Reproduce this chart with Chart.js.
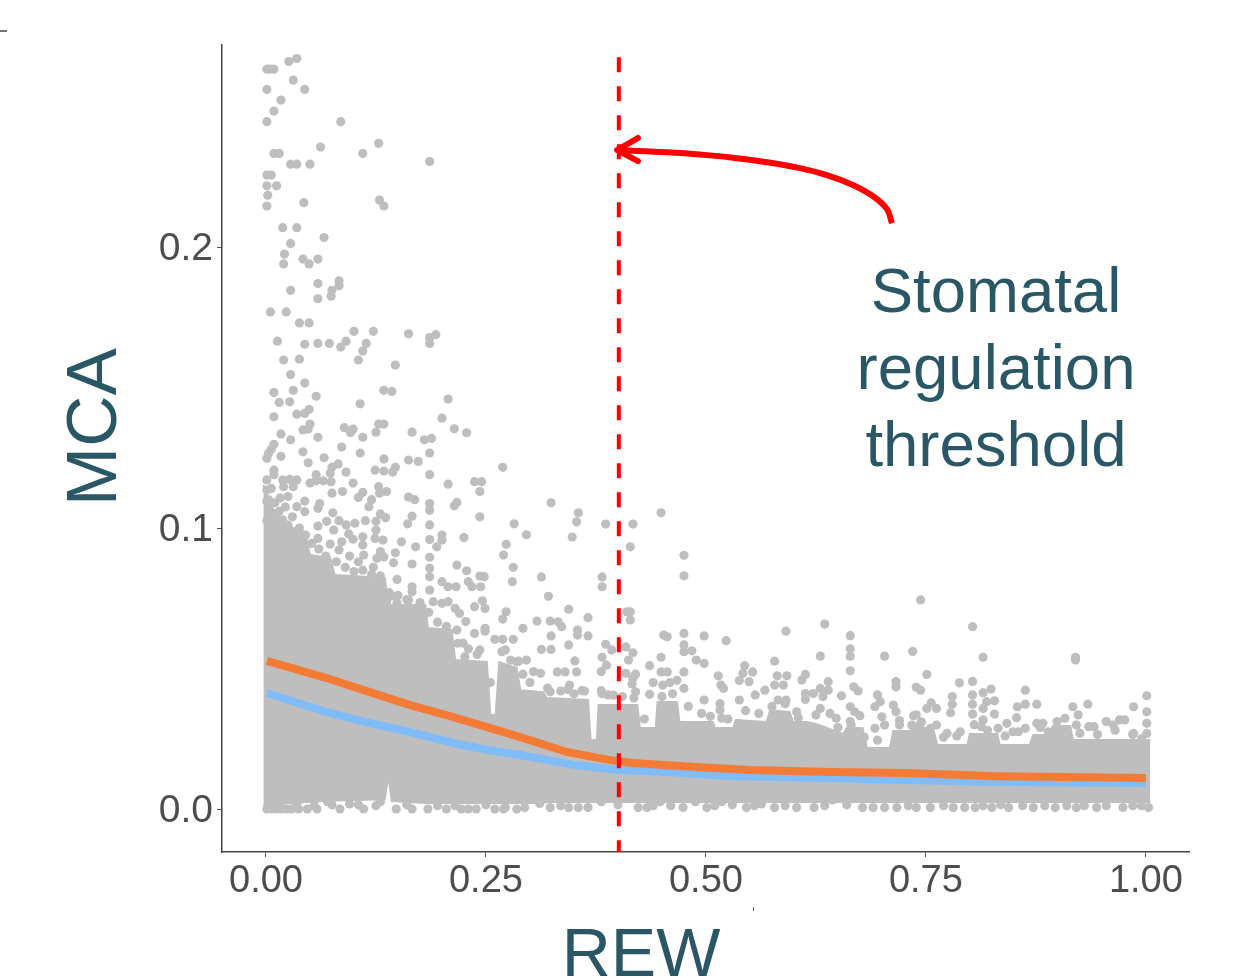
<!DOCTYPE html>
<html>
<head>
<meta charset="utf-8">
<title>MCA vs REW</title>
<script src="https://cdn.jsdelivr.net/npm/chart.js@4"></script>
<style>
  html, body { margin: 0; padding: 0; background: #fff; }
  canvas { display: block; }
</style>
</head>
<body>
<canvas id="chart" width="1236" height="978"></canvas>
<script>
// lissage (courbes du haut)
var orangeX = [0.001, 0.069, 0.118, 0.164, 0.213, 0.255, 0.289, 0.342, 0.391, 0.417, 0.493, 0.55, 0.644, 0.728, 0.831, 0.906, 1.0];
var orangeY = [0.0527, 0.0466, 0.0416, 0.0370, 0.0327, 0.0288, 0.0256, 0.0203, 0.0174, 0.0164, 0.0149, 0.0139, 0.0132, 0.0128, 0.0117, 0.0114, 0.0110];
var blueX = [0.001, 0.069, 0.118, 0.164, 0.213, 0.252, 0.289, 0.350, 0.400, 0.457, 0.532, 0.644, 0.728, 0.831, 1.0];
var blueY = [0.0413, 0.0345, 0.0306, 0.0274, 0.0235, 0.0210, 0.0192, 0.0157, 0.0139, 0.0132, 0.0117, 0.0110, 0.0103, 0.0096, 0.0093];

// seuil + fleche
var thresholdX = [0.401, 0.401];
var thresholdY = [0.2675, -0.0153];
var arrowX = [0.7114, 0.7057, 0.6898, 0.667, 0.6375, 0.6068, 0.5693, 0.5307, 0.4932, 0.4557, 0.4170, 0.399];
var arrowY = [0.2085, 0.2135, 0.2181, 0.2221, 0.2256, 0.2281, 0.2302, 0.2318, 0.2329, 0.2337, 0.2343, 0.2345];
var arrowHeadX = [0.4227, 0.399, 0.4227];
var arrowHeadY = [0.2388, 0.2345, 0.2306];

// masse dense de points : enveloppe haut / bas
var massX = [-0.003, 0.005, 0.022, 0.044, 0.05, 0.073, 0.078, 0.135, 0.139, 0.143, 0.181, 0.184, 0.211, 0.215, 0.251, 0.255, 0.261, 0.265, 0.285, 0.289, 0.315, 0.319, 0.366, 0.369, 0.376, 0.378, 0.399, 0.422, 0.425, 0.443, 0.445, 0.467, 0.470, 0.508, 0.510, 0.531, 0.534, 0.569, 0.573, 0.595, 0.599, 0.615, 0.626, 0.656, 0.660, 0.678, 0.683, 0.709, 0.713, 0.732, 0.735, 0.758, 0.763, 0.797, 0.800, 0.831, 0.834, 0.868, 0.872, 0.891, 0.894, 0.914, 0.917, 1.005];
var massTop = [0.1153, 0.1082, 0.1011, 0.0986, 0.0904, 0.0893, 0.0833, 0.0822, 0.0726, 0.0726, 0.0726, 0.0644, 0.0637, 0.0530, 0.0523, 0.0335, 0.0335, 0.0523, 0.0502, 0.0423, 0.0416, 0.0395, 0.0388, 0.0246, 0.0246, 0.0370, 0.0370, 0.0370, 0.0288, 0.0288, 0.0381, 0.0381, 0.0310, 0.0310, 0.0288, 0.0288, 0.0317, 0.0310, 0.0352, 0.0345, 0.0310, 0.0310, 0.0302, 0.0267, 0.0288, 0.0288, 0.0217, 0.0217, 0.0278, 0.0278, 0.0288, 0.0288, 0.0228, 0.0228, 0.0267, 0.0267, 0.0228, 0.0228, 0.0263, 0.0263, 0.0295, 0.0295, 0.0246, 0.0246];
var massBottom = [0.0014, 0.0014, 0.0020, 0.0025, 0.0025, 0.0030, 0.0030, 0.0035, 0.0121, 0.0028, 0.0021, 0.0021, 0.0021, 0.0021, 0.0021, 0.0021, 0.0021, 0.0021, 0.0021, 0.0021, 0.0021, 0.0025, 0.0025, 0.0025, 0.0025, 0.0025, 0.0025, 0.0025, 0.0025, 0.0025, 0.0025, 0.0025, 0.0025, 0.0025, 0.0025, 0.0025, 0.0025, 0.0025, 0.0025, 0.0025, 0.0025, 0.0025, 0.0025, 0.0025, 0.0025, 0.0025, 0.0025, 0.0025, 0.0025, 0.0025, 0.0025, 0.0025, 0.0025, 0.0025, 0.0025, 0.0025, 0.0025, 0.0025, 0.0025, 0.0025, 0.0025, 0.0025, 0.0025, 0.0025];

// points isoles (REW, MCA)
var scatterPoints = [
  [.035,.2671],[.026,.2660],[.001,.2633],[.005,.2633],[.009,.2633],[.031,.2594],[.001,.2561],[.044,.2561],[.017,.2523],[.009,.2484],
  [.001,.2446],[.085,.2446],[.128,.2369],[.062,.2356],[.009,.2333],[.015,.2333],[.110,.2333],[.186,.2304],[.028,.2295],[.035,.2295],
  [.050,.2295],[.001,.2256],[.006,.2256],[.001,.2218],[.012,.2218],[.002,.2184],[.001,.2146],[.043,.2158],[.129,.2167],[.134,.2146],
  [.019,.2069],[.035,.2069],[.066,.2034],[.028,.2013],[.021,.1975],[.042,.1957],[.049,.1940],[.020,.1940],[.059,.1957],[.083,.1880],
  [.083,.1862],[.059,.1870],[.075,.1846],[.074,.1825],[.059,.1816],[.028,.1846],[.005,.1769],[.023,.1769],[.038,.1730],[.049,.1730],
  [.100,.1700],[.122,.1700],[.162,.1691],[.186,.1678],[.193,.1688],
  [.013,.1665],[.044,.1654],[.059,.1657],[.072,.1657],[.085,.1644],[.091,.1665],[.186,.1657],[.114,.1657],[.110,.1630],[.105,.1598],
  [.020,.1598],[.038,.1601],[.147,.1580],[.028,.1546],[.044,.1516],[.009,.1482],[.031,.1490],[.134,.1490],[.143,.1486],[.057,.1469],
  [.015,.1447],[.027,.1449],[.107,.1442],[.207,.1459],[.009,.1396],[.035,.1405],[.044,.1408],[.049,.1422],[.200,.1391],[.050,.1370],
  [.042,.1349],[.048,.1352],[.089,.1357],[.099,.1352],[.096,.1339],[.128,.1370],[.134,.1370],[.125,.1341],[.166,.1341],[.214,.1353],
  [.228,.1339],[.017,.1335],[.028,.1314],[.059,.1323],[.110,.1323],[.180,.1314],[.188,.1319],[.009,.1298],[.006,.1280],[.003,.1266],
  [.001,.1248],[.017,.1255],[.042,.1271],[.086,.1288],[.107,.1267],[.186,.1267],[.066,.1250],[.048,.1232],[.134,.1246],[.162,.1242],
  [.173,.1237],[.082,.1228],[.075,.1216],[.269,.1216],[.009,.1206],[.124,.1206],[.134,.1203],[.147,.1216],[.144,.1199],[.091,.1199],
  [.186,.1190],[.009,.1190],[.057,.1190],[.073,.1195],[.001,.1171],[.019,.1171],[.027,.1173],[.035,.1171],[.020,.1147],[.031,.1147],
  [.050,.1160],[.057,.1168],[.065,.1168],[.074,.1165],[.099,.1160],[.207,.1156],[.237,.1165],[.245,.1165],[.243,.1130],[.128,.1147],
  [.129,.1124],[.137,.1130],[.075,.1124],[.087,.1130],[.110,.1127],[.105,.1109],[.001,.1135],[.006,.1141],[.162,.1110],[.169,.1101],
  [.044,.1096],[.120,.1101],[.061,.1087],[.059,.1070],[.186,.1087],[.186,.1063],[.217,.1091],[.214,.1079],[.117,.1076],[.016,.1107],
  [.025,.1112],[.001,.1094],[.035,.1076],[.044,.1058],[.076,.1054],[.130,.1050],[.136,.1037],[.166,.1042],[.161,.1015],[.243,.1040],
  [.282,.1015],[.001,.1026],[.019,.1029],[.069,.1024],[.083,.1026],[.059,.1007],[.091,.1011],[.101,.1017],[.113,.1026],[.125,.1024],
  [.125,.0993],[.186,.1011],[.077,.0993],[.094,.0979],[.099,.0960],[.059,.0963],[.073,.0943],[.086,.0951],[.110,.0969],[.110,.0940],
  [.124,.0963],[.133,.0957],[.154,.0951],[.170,.0933],[.186,.0959],[.200,.0975],[.200,.0957],[.194,.0933],[.225,.0966],[.273,.0942],
  [.270,.0904],[.281,.0860],[.280,.0809],[.083,.0922],[.130,.0916],[.147,.0912],[.126,.0892],[.134,.0897],[.111,.0904],[.186,.0896],
  [.186,.0857],[.166,.0872],[.145,.0876],[.217,.0868],[.228,.0848],[.243,.0829],[.248,.0827],[.230,.0809],[.234,.0791],[.186,.0827],
  [.200,.0809],[.207,.0791],[.216,.0791],[.244,.0791],[.149,.0817],[.143,.0758],[.166,.0791],[.166,.0773],[.162,.0744],[.186,.0779],
  [.190,.0738],[.200,.0732],[.207,.0738],[.246,.0741],[.237,.0720],[.249,.0714],[.273,.0702],[.269,.0676],[.215,.0714],[.220,.0696],
  [.227,.0667],[.249,.0643],[.137,.0738],[.149,.0732],[.171,.0714],[.154,.0696],[.260,.0604],[.269,.0604],[.281,.0604],[.249,.0633],
  [.237,.0625],[.272,.0566],[.285,.0524],[.226,.0542],[.243,.0566],[.209,.0566],[.217,.0637],[.224,.0590],
  [.324,.1090],[.355,.1054],[.353,.1022],[.449,.1054],[.386,.1014],[.417,.1014],[.296,.0976],[.348,.0968],[.414,.0933],[.475,.0903],
  [.475,.0830],[.313,.0826],[.382,.0826],[.382,.0791],[.321,.0757],[.344,.0711],[.410,.0702],[.414,.0702],[.414,.0673],[.308,.0669],
  [.323,.0669],[.332,.0666],[.336,.0649],[.366,.0681],[.292,.0643],[.354,.0637],[.354,.0619],[.324,.0616],[.366,.0616],[.475,.0625],
  [.475,.0584],[.475,.0560],[.452,.0619],[.456,.0613],[.498,.0616],[.523,.0599],[.591,.0633],[.635,.0658],[.386,.0586],[.393,.0566],
  [.409,.0577],[.417,.0556],[.344,.0584],[.313,.0568],[.324,.0568],[.351,.0527],[.484,.0563],[.498,.0518],[.489,.0530],[.382,.0540],
  [.412,.0530],[.449,.0540],[.436,.0510],[.287,.0526],[.296,.0530],[.387,.0512],[.381,.0489],[.630,.0544],[.578,.0526],[.544,.0510],
  [.331,.0488],[.340,.0488],[.353,.0488],[.312,.0483],[.304,.0489],[.409,.0483],[.420,.0480],[.449,.0488],[.456,.0488],[.475,.0488],
  [.514,.0474],[.542,.0483],[.553,.0488],[.538,.0457],[.549,.0453],[.581,.0474],[.592,.0474],[.613,.0479],[.609,.0459],[.639,.0453],
  [.467,.0458],[.459,.0450],[.451,.0441],[.440,.0450],[.436,.0408],[.517,.0441],[.520,.0429],[.417,.0465],[.416,.0445],[.420,.0417],
  [.345,.0441],[.343,.0425],[.359,.0421],[.323,.0417],[.381,.0421],[.389,.0406],[.578,.0441],[.588,.0441],[.567,.0423],[.556,.0406],
  [.538,.0388],[.630,.0429],[.613,.0411],[.613,.0390],[.622,.0411],[.639,.0423],[.633,.0400],[.475,.0429],[.498,.0388],[.516,.0375],
  [.516,.0352],[.591,.0388],[.582,.0388],[.518,.0323],[.603,.0346],[.630,.0358],[.641,.0340],[.592,.0328],[.537,.0305],
  [.744,.0744],[.803,.0649],[.664,.0617],[.664,.0570],[.664,.0544],[.664,.0492],[.703,.0544],[.735,.0561],[.815,.0540],[.920,.0540],
  [.920,.0530],[.751,.0479],[.803,.0454],[.788,.0449],[.716,.0453],[.716,.0435],[.668,.0435],[.673,.0420],[.654,.0403],[.739,.0433],
  [.744,.0423],[.695,.0406],[.780,.0400],[.780,.0373],[.778,.0343],[.756,.0378],[.751,.0358],[.762,.0358],[.803,.0406],[.803,.0373],
  [.803,.0338],[.815,.0414],[.824,.0427],[.819,.0382],[.828,.0385],[.815,.0358],[.828,.0338],[.863,.0423],[.863,.0373],[.876,.0373],
  [.854,.0364],[.853,.0325],[.863,.0287],[.917,.0364],[.934,.0373],[.923,.0335],[.986,.0364],[1.001,.0403],[1.001,.0346],[.664,.0364],
  [.669,.0346],[.675,.0332],[.692,.0364],[.698,.0382],[.700,.0328],[.713,.0370],[.716,.0346],[.664,.0311],[.648,.0323],[.692,.0287],
  [.703,.0299],[.736,.0332],[.739,.0335],[.734,.0299],[.762,.0299],[.774,.0269],[.789,.0275],[.815,.0317],[.813,.0293],[.832,.0287],
  [.842,.0305],[.849,.0275],[.876,.0305],[.883,.0305],[.889,.0275],[.899,.0311],[.908,.0323],[.921,.0299],[.935,.0293],[.941,.0293],
  [.955,.0311],[.963,.0299],[.970,.0317],[.976,.0317],[.986,.0269],[1.001,.0305],[1.001,.0269],[.720,.0299],[.743,.0299],[.755,.0287],
  // bord haut de la masse
  [.003,.1100],[.010,.1090],[.015,.1060],[.022,.1075],[.030,.1040],[.012,.1020],[.025,.1010],[.038,.1000],[.045,.0975],[.052,.0945],
  [.060,.0925],[.068,.0900],[.080,.0880],[.090,.0860],[.100,.0845],[.110,.0850],[.120,.0835],[.130,.0830],[.095,.0900],[.105,.0880],
  [.122,.0860],[.140,.0770],[.150,.0760],[.160,.0745],[.175,.0735],[.185,.0700],[.195,.0665],[.205,.0650],[.218,.0590],[.230,.0570],
  [.240,.0550],[.255,.0450],[.268,.0560],[.278,.0530],[.292,.0480],[.300,.0450],[.320,.0430],[.335,.0420],[.350,.0410],[.362,.0420],
  [.382,.0410],[.395,.0405],[.405,.0400],[.418,.0395],[.430,.0320],[.450,.0400],[.462,.0410],[.480,.0365],[.495,.0340],[.505,.0330],
  [.525,.0320],[.545,.0350],[.560,.0340],[.575,.0365],[.590,.0375],[.605,.0325],[.625,.0335],[.650,.0290],[.665,.0300],[.680,.0255],
  [.695,.0245],[.720,.0315],[.745,.0310],[.770,.0255],[.785,.0260],[.805,.0300],[.820,.0280],[.840,.0260],[.855,.0275],[.880,.0290],
  [.900,.0285],[.925,.0270],[.945,.0265],[.965,.0280],[.985,.0265],[.995,.0250],
  // bas du nuage, autour de zero
  [.001,0],[.006,0],[.012,0],[.018,0],[.024,0],[.029,0],[.037,0],[.047,0],[.058,0],[.084,0],[.111,0],[.148,0],[.166,0],[.184,0],
  [.205,0],[.222,0],[.230,0],[.239,0],[.260,0],[.270,0],[.285,0],[.070,.0026],[.095,.0018],[.037,.0032],[.130,.0026],
  [.323,.0005],[.344,.0005],[.355,.0005],[.366,.0005],[.423,.0005],[.433,.0005],[.474,.0005],[.501,.0005],[.546,.0005],[.578,.0005],
  [.603,.0005],[.623,.0005],[.272,.0005],[.294,.0005],[.311,.0020],[.381,.0026],[.448,.0026],[.488,.0026],[.518,.0026],[.563,.0018],
  [.644,.0032],[.678,.0005],[.690,.0005],[.703,.0005],[.717,.0005],[.739,.0005],[.755,.0005],[.781,.0005],[.794,.0005],[.806,.0005],
  [.825,.0005],[.844,.0005],[.872,.0005],[.897,.0005],[.921,.0005],[.944,.0005],[.974,.0005],[1.003,.0005],
  [.015,.0012],[.035,.0015],[.055,.0012],[.075,.0015],[.105,.0015],[.125,.0012],[.160,.0015],[.195,.0012],[.215,.0012],[.250,.0015],
  [.335,.0012],[.400,.0015],[.440,.0012],[.460,.0012],[.510,.0012],[.530,.0015],[.555,.0012],[.590,.0012],[.635,.0012],[.660,.0015],
  [.730,.0012],[.770,.0012],[.815,.0012],[.835,.0015],[.860,.0012],[.885,.0012],[.910,.0012],[.930,.0012],[.955,.0012],[.985,.0012],[.995,.0012]
];

var xTicks = [0, 0.25, 0.5, 0.75, 1];
var yTicks = [0, 0.1, 0.2];
var annotationLines = ['Stomatal', 'regulation', 'threshold'];
var xTitle = 'REW';
var yTitle = 'MCA';

var GREY = '#bebebe';
var TITLE_COLOR = '#2a5766';
var FONT = "'Liberation Sans', Arial, sans-serif";

function toPoints(xs, ys) {
  return xs.map(function (x, i) { return { x: x, y: ys[i] }; });
}

// textes poses a la main (pas centres sur l'axe dans l'original)
var textPlugin = {
  id: 'textPlugin',
  afterDraw: function (chart) {
    var ctx = chart.ctx;
    ctx.save();
    ctx.fillStyle = TITLE_COLOR;
    ctx.textAlign = 'center';
    ctx.textBaseline = 'alphabetic';
    ctx.font = '63.5px ' + FONT;
    [312, 389, 466].forEach(function (y, i) {
      ctx.fillText(annotationLines[i], 996, y);
    });
    ctx.font = '68px ' + FONT;
    ctx.fillText(xTitle, 641, 976);
    ctx.save();
    ctx.translate(116, 427);
    ctx.rotate(-Math.PI / 2);
    ctx.font = '71px ' + FONT;
    ctx.fillText(yTitle, 0, 0);
    ctx.restore();
    // petits restes de la capture
    ctx.fillStyle = '#777';
    ctx.fillRect(0, 30, 7, 2);
    ctx.fillStyle = '#2a6fb0';
    ctx.fillRect(753, 907, 1, 4);
    ctx.restore();
  }
};

new Chart(document.getElementById('chart'), {
  type: 'scatter',
  data: {
    datasets: [
      {
        data: toPoints(massX, massTop),
        showLine: true, pointRadius: 0, borderColor: GREY, backgroundColor: GREY,
        borderWidth: 2, fill: '+1', order: 10
      },
      {
        data: toPoints(massX, massBottom),
        showLine: true, pointRadius: 0, borderColor: GREY, borderWidth: 2, fill: false, order: 10
      },
      {
        data: scatterPoints.map(function (p) { return { x: p[0], y: p[1] }; }),
        pointRadius: 4.6, pointBackgroundColor: GREY, pointBorderWidth: 0, order: 9
      },
      {
        data: toPoints(blueX, blueY),
        showLine: true, pointRadius: 0, borderColor: '#7fbcf8', borderWidth: 8, fill: false, order: 4
      },
      {
        data: toPoints(orangeX, orangeY),
        showLine: true, pointRadius: 0, borderColor: '#f47b36', borderWidth: 8, fill: false, order: 3
      },
      {
        data: toPoints(thresholdX, thresholdY),
        showLine: true, pointRadius: 0, borderColor: '#ff0000', borderWidth: 4, borderDash: [15, 14], fill: false, order: 2
      },
      {
        data: toPoints(arrowX, arrowY),
        showLine: true, pointRadius: 0, borderColor: '#ff0000', borderWidth: 6, tension: 0.4,
        borderCapStyle: 'butt', fill: false, order: 1
      },
      {
        data: toPoints(arrowHeadX, arrowHeadY),
        showLine: true, pointRadius: 0, borderColor: '#ff0000', borderWidth: 6,
        borderCapStyle: 'round', borderJoinStyle: 'round', fill: false, order: 1
      }
    ]
  },
  options: {
    responsive: false,
    animation: false,
    events: [],
    layout: { padding: { top: 45, right: 47, left: 0, bottom: 0 } },
    plugins: { legend: { display: false }, tooltip: { enabled: false }, title: { display: false } },
    scales: {
      x: {
        type: 'linear',
        min: -0.05,
        max: 1.049,
        afterBuildTicks: function (axis) {
          axis.ticks = xTicks.map(function (v) { return { value: v }; });
        },
        afterFit: function (axis) { axis.height = 126; },
        grid: { drawOnChartArea: false, drawTicks: true, tickLength: 5, color: '#555', lineWidth: 1 },
        border: { color: '#444', width: 1.5 },
        ticks: {
          color: '#4d4d4d', maxRotation: 0, autoSkip: false, padding: 2,
          font: { family: FONT, size: 38 },
          callback: function (v) { return v.toFixed(2); }
        }
      },
      y: {
        type: 'linear',
        min: -0.0153,
        max: 0.2719,
        afterBuildTicks: function (axis) {
          axis.ticks = yTicks.map(function (v) { return { value: v }; });
        },
        afterFit: function (axis) { axis.width = 222; },
        grid: { drawOnChartArea: false, drawTicks: true, tickLength: 5, color: '#555', lineWidth: 1 },
        border: { color: '#444', width: 1.5 },
        ticks: {
          color: '#4d4d4d', autoSkip: false, padding: 4, labelOffset: 2,
          font: { family: FONT, size: 39 },
          callback: function (v) { return v.toFixed(1); }
        }
      }
    }
  },
  plugins: [textPlugin]
});
</script>
</body>
</html>
